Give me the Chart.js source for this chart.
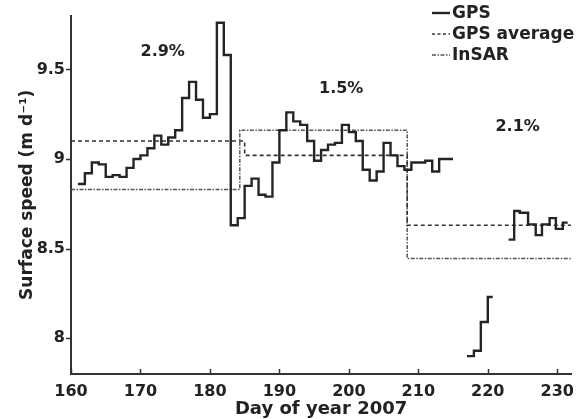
<!DOCTYPE html>
<html>
<head>
<meta charset="utf-8">
<script src="https://cdn.jsdelivr.net/npm/chart.js@4.4.0/dist/chart.umd.min.js"></script>
<style>
  html, body { margin: 0; padding: 0; background: #fff; }
  #wrap { width: 582px; height: 419px; position: relative; }
</style>
</head>
<body>
<div id="wrap"><canvas id="chart"></canvas></div>
<script>
// GPS daily surface speed (m/d), three pieces with data gaps between them
var gpsDays1 = [161, 162, 163, 164, 165, 166, 167, 168, 169, 170,
                171, 172, 173, 174, 175, 176, 177, 178, 179, 180,
                181, 182, 183, 184, 185, 186, 187, 188, 189, 190,
                191, 192, 193, 194, 195, 196, 197, 198, 199, 200,
                201, 202, 203, 204, 205, 206, 207, 208, 209, 210,
                211, 212, 213, 214];
var gpsSpeed1 = [8.86, 8.92, 8.98, 8.97, 8.90, 8.91, 8.90, 8.95, 9.00, 9.02,
                 9.06, 9.13, 9.08, 9.12, 9.16, 9.34, 9.43, 9.33, 9.23, 9.25,
                 9.76, 9.58, 8.63, 8.67, 8.85, 8.89, 8.80, 8.79, 8.98, 9.16,
                 9.26, 9.21, 9.19, 9.10, 8.99, 9.05, 9.08, 9.09, 9.19, 9.15,
                 9.10, 8.94, 8.88, 8.93, 9.09, 9.02, 8.96, 8.94, 8.98, 8.98,
                 8.99, 8.93, 9.00, 9.00];
var gpsEnd1 = 215;

var gpsDays2 = [217, 218, 219, 220];
var gpsSpeed2 = [7.90, 7.93, 8.09, 8.23];
var gpsEnd2 = 220.7;

var gpsDays3 = [223.0, 223.8, 224.6, 225.8, 226.9, 227.8, 228.9, 229.8, 230.8];
var gpsSpeed3 = [8.55, 8.71, 8.70, 8.635, 8.575, 8.635, 8.67, 8.61, 8.645];
var gpsEnd3 = 231.5;

// period means: GPS average and InSAR
var avgDays = [160, 185, 208.4];
var avgSpeed = [9.10, 9.02, 8.63];
var insarDays = [160, 184.3, 208.4];
var insarSpeed = [8.83, 9.16, 8.445];
var periodEnd = 232;

// percentage annotations per period
var pctLabels = ['2.9%', '1.5%', '2.1%'];
var pctDays = [173.2, 198.9, 224.3];
var pctSpeed = [9.6, 9.39, 9.18];

var xTicks = [160, 170, 180, 190, 200, 210, 220, 230];
var yTicks = [8, 8.5, 9, 9.5];

var legendLabels = ['GPS', 'GPS average', 'InSAR'];

var FONT = '"DejaVu Sans", sans-serif';
var INK = '#222222';

function steps(days, vals, end) {
  var pts = days.map(function (d, i) { return { x: d, y: vals[i] }; });
  pts.push({ x: end, y: vals[vals.length - 1] });
  return pts;
}

var gpsStyle = { borderColor: '#242424', borderWidth: 2.4, borderDash: [] };
var avgStyle = { borderColor: '#333333', borderWidth: 1.6, borderDash: [4, 3] };
var insarStyle = { borderColor: '#555555', borderWidth: 1.5, borderDash: [4, 1.5, 1.5, 1.5] };

function lineSet(label, pts, st) {
  return {
    label: label,
    data: pts,
    stepped: true,
    fill: false,
    pointRadius: 0,
    borderColor: st.borderColor,
    borderWidth: st.borderWidth,
    borderDash: st.borderDash,
    borderCapStyle: 'butt',
    borderJoinStyle: 'miter'
  };
}

// tick marks, period percentages and the legend block
var decor = {
  id: 'decor',
  afterDraw: function (chart) {
    var ctx = chart.ctx, xs = chart.scales.x, ys = chart.scales.y, area = chart.chartArea;
    ctx.save();
    ctx.strokeStyle = '#333';
    ctx.lineWidth = 1.5;
    xTicks.forEach(function (t) {
      var px = Math.round(xs.getPixelForValue(t)) + 0.5;
      ctx.beginPath();
      ctx.moveTo(px, area.bottom);
      ctx.lineTo(px, area.bottom - 5);
      ctx.stroke();
    });
    yTicks.forEach(function (t) {
      var py = Math.round(ys.getPixelForValue(t)) + 0.5;
      ctx.beginPath();
      ctx.moveTo(area.left - 5, py);
      ctx.lineTo(area.left, py);
      ctx.stroke();
    });

    ctx.fillStyle = INK;
    ctx.font = 'bold 16px ' + FONT;
    ctx.textAlign = 'center';
    ctx.textBaseline = 'middle';
    pctLabels.forEach(function (s, i) {
      ctx.fillText(s, xs.getPixelForValue(pctDays[i]), ys.getPixelForValue(pctSpeed[i]));
    });

    var styles = [gpsStyle, avgStyle, insarStyle];
    var lx = 432, tx = 452, ly = 13, gap = 21;
    ctx.font = 'bold 17px ' + FONT;
    ctx.textAlign = 'left';
    legendLabels.forEach(function (s, i) {
      var y = ly + i * gap;
      var st = styles[i];
      ctx.strokeStyle = st.borderColor;
      ctx.lineWidth = st.borderWidth;
      ctx.setLineDash(i === 1 ? [3, 2.5] : st.borderDash);
      ctx.beginPath();
      ctx.moveTo(lx, y);
      ctx.lineTo(lx + 18, y);
      ctx.stroke();
      ctx.setLineDash([]);
      ctx.fillText(s, tx, y + 1);
    });
    ctx.restore();
  }
};

new Chart(document.getElementById('chart'), {
  type: 'line',
  data: {
    datasets: [
      lineSet('GPS', steps(gpsDays1, gpsSpeed1, gpsEnd1), gpsStyle),
      lineSet('GPS', steps(gpsDays2, gpsSpeed2, gpsEnd2), gpsStyle),
      lineSet('GPS', steps(gpsDays3, gpsSpeed3, gpsEnd3), gpsStyle),
      lineSet('GPS average', steps(avgDays, avgSpeed, periodEnd), avgStyle),
      lineSet('InSAR', steps(insarDays, insarSpeed, periodEnd), insarStyle)
    ]
  },
  options: {
    responsive: true,
    maintainAspectRatio: false,
    animation: false,
    layout: { padding: { top: 14, right: 2, left: 0, bottom: 0 } },
    plugins: {
      legend: { display: false },
      tooltip: { enabled: false }
    },
    scales: {
      x: {
        type: 'linear',
        min: 160,
        max: 232,
        afterBuildTicks: function (s) { s.ticks = xTicks.map(function (v) { return { value: v }; }); },
        afterFit: function (s) { s.height = 45; },
        grid: { display: false, drawTicks: false },
        border: { display: true, color: '#333', width: 2 },
        ticks: {
          color: INK, padding: 8, maxRotation: 0, autoSkip: false,
          font: { family: FONT, size: 16, weight: 'bold' },
          callback: function (v) { return String(v); }
        },
        title: {
          display: true, text: 'Day of year 2007', color: INK,
          font: { family: FONT, size: 18, weight: 'bold', lineHeight: 1.1 },
          padding: { top: 0, bottom: 0 }
        }
      },
      y: {
        min: 7.8,
        max: 9.8,
        afterBuildTicks: function (s) { s.ticks = yTicks.map(function (v) { return { value: v }; }); },
        afterFit: function (s) { s.width = 71; },
        grid: { display: false, drawTicks: false },
        border: { display: true, color: '#333', width: 2 },
        ticks: {
          color: INK, padding: 6,
          font: { family: FONT, size: 16, weight: 'bold' },
          callback: function (v) { return String(v); }
        },
        title: {
          display: true, text: 'Surface speed (m d\u207B\u00B9)', color: INK,
          font: { family: FONT, size: 17, weight: 'bold' },
          padding: { top: 17, bottom: 0 }
        }
      }
    }
  },
  plugins: [decor]
});
</script>
</body>
</html>
